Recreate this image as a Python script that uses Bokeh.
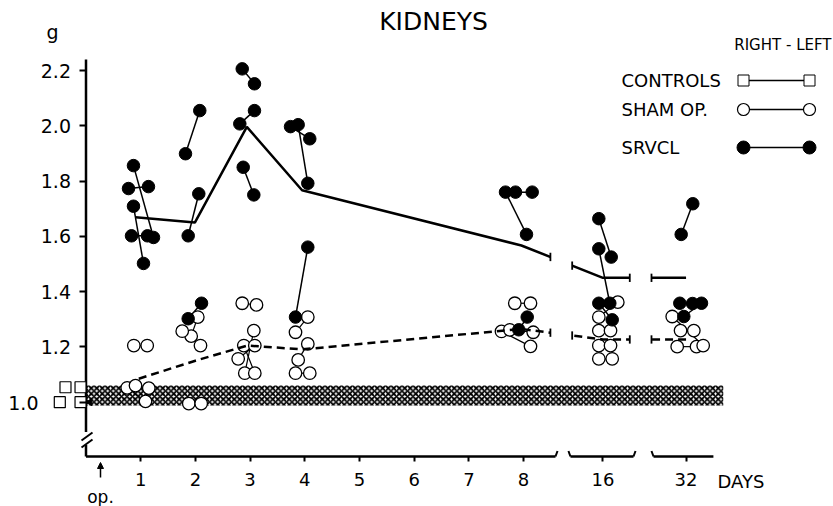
import numpy as np
from bokeh.plotting import figure
from bokeh.models import Range1d, LinearAxis, FixedTicker, Label, Arrow, NormalHead
from bokeh.embed import file_html
from bokeh.resources import INLINE

# ---------------- data (x in axis units: 1..8 days, 16 -> 9.45, 32 -> 10.97; y in g) ----------------
Y_TICKS = [1.0, 1.2, 1.4, 1.6, 1.8, 2.0, 2.2]
Y_LABELS = ["1.0", "1.2", "1.4", "1.6", "1.8", "2.0", "2.2"]
X_TICKS = [1, 2, 3, 4, 5, 6, 7, 8, 9.45, 10.97]
X_LABELS = ["1", "2", "3", "4", "5", "6", "7", "8", "16", "32"]

# SRVCL: right kidney (R) and left kidney (L) of each animal
SRVCL_R_X = [0.868, 0.777, 0.868, 0.832, 1.819, 1.868, 1.868, 2.856, 2.812, 2.874,
             3.739, 3.879, 3.830, 7.669, 7.852, 7.912, 9.375, 9.375, 9.375, 10.881, 10.856, 10.929]
SRVCL_R_G = [1.856, 1.773, 1.709, 1.602, 1.899, 1.602, 1.302, 2.206, 2.007, 1.850,
             1.997, 2.004, 1.308, 1.760, 1.760, 1.262, 1.664, 1.555, 1.358, 1.607, 1.358, 1.310]
SRVCL_L_X = [1.234, 1.142, 1.051, 1.124, 2.080, 2.062, 2.112, 3.080, 3.080, 3.068,
             4.091, 4.055, 4.055, 8.053, 8.157, 8.066, 9.602, 9.576, 9.620, 11.093, 11.088, 11.252]
SRVCL_L_G = [1.596, 1.780, 1.502, 1.602, 2.055, 1.754, 1.358, 2.152, 2.055, 1.750,
             1.953, 1.792, 1.561, 1.607, 1.760, 1.308, 1.525, 1.358, 1.298, 1.718, 1.357, 1.358]

# Sham operated
SHAM_R_X = [0.874, 0.753, 0.905, 1.923, 1.759, 1.879, 2.856, 3.068, 2.885, 2.782,
            3.830, 3.879, 3.830, 7.839, 7.596, 7.748, 9.375, 9.375, 9.375, 9.375, 10.869, 10.808, 10.717]
SHAM_R_G = [1.205, 1.052, 1.060, 1.239, 1.257, 0.995, 1.358, 1.259, 1.205, 1.157,
            1.253, 1.153, 1.105, 1.358, 1.256, 1.262, 1.308, 1.259, 1.205, 1.157, 1.259, 1.201, 1.310]
SHAM_L_X = [1.119, 1.088, 1.148, 2.044, 2.093, 2.106, 3.117, 2.903, 3.086, 3.086,
            4.055, 4.055, 4.091, 8.126, 8.126, 8.176, 9.722, 9.589, 9.589, 9.620, 11.112, 11.161, 11.283]
SHAM_L_G = [1.205, 1.003, 1.051, 1.308, 1.205, 0.995, 1.352, 1.105, 1.105, 1.205,
            1.308, 1.211, 1.105, 1.358, 1.202, 1.253, 1.362, 1.259, 1.205, 1.157, 1.259, 1.201, 1.205]

# Controls (plotted left of the axis)
CTRL_X = [-0.375, -0.100, -0.479, -0.100]
CTRL_G = [1.054, 1.054, 1.000, 1.000]
CTRL_MEAN_G = 1.0
CTRL_BAND = (0.988, 1.060)   # control range band
CTRL_BAND_END = 11.65

# Mean lines
SRVCL_MEAN_X = [0.905, 1.99, 2.94, 3.95, 7.96, 9.45, 10.97]
SRVCL_MEAN_G = [1.669, 1.650, 1.996, 1.767, 1.567, 1.450, 1.450]
SHAM_MEAN_X = [0.965, 2.0, 2.947, 3.952, 7.96, 9.45, 10.97]
SHAM_MEAN_G = [1.085, 1.150, 1.205, 1.191, 1.265, 1.227, 1.227]

# axis breaks
AXIS_SEGMENTS = [(0.0, 8.583), (8.857, 10.009), (10.375, 11.47)]
LINE_GAPS = [(8.49, 8.888), (9.941, 10.338)]
AXIS_BOTTOM = 0.8035
AXIS_TOP = 2.24

# ---------------- figure ----------------
W, H = 833, 506
X0_PX, X_PER = 85.5, 54.7
Y1_PX, Y_PER = 401.7, 276.4


def px(xp):  # canvas pixel -> data x (layout helper for annotations)
    return (xp - X0_PX) / X_PER


def py(yp):
    return 1 + (Y1_PX - yp) / Y_PER


p = figure(width=W, height=H,
           x_range=Range1d(-X0_PX / X_PER, (W - X0_PX) / X_PER),
           y_range=Range1d(1 - (H - Y1_PX) / Y_PER, 1 + Y1_PX / Y_PER),
           output_backend="svg", toolbar_location=None, min_border=0,
           x_axis_type=None, y_axis_type=None)
p.outline_line_color = None
p.background_fill_color = "white"
p.border_fill_color = "white"

FONT = "DejaVu Sans"

# the "1.0" label sits further left (controls are drawn beside the axis), so it is drawn separately
y_over = {float(t): s for t, s in zip(Y_TICKS, Y_LABELS)}
y_over[1.0] = ""
yax = LinearAxis(ticker=FixedTicker(ticks=Y_TICKS), fixed_location=0,
                 axis_line_color=None, major_tick_out=7, major_tick_in=0,
                 major_tick_line_width=2, major_tick_line_color="black",
                 minor_tick_line_color=None, major_label_standoff=8,
                 major_label_text_font=FONT, major_label_text_font_size="19px",
                 major_label_text_color="black", major_label_overrides=y_over)
p.add_layout(yax, "left")

xax = LinearAxis(ticker=FixedTicker(ticks=X_TICKS), fixed_location=AXIS_BOTTOM,
                 axis_line_color=None, major_tick_out=5, major_tick_in=0,
                 major_tick_line_width=2, major_tick_line_color="black",
                 minor_tick_line_color=None, major_label_standoff=11,
                 major_label_text_font=FONT, major_label_text_font_size="18px",
                 major_label_text_color="black",
                 major_label_overrides={float(t): s for t, s in zip(X_TICKS, X_LABELS)})
p.add_layout(xax, "below")

# control band (hatched)
p.quad(left=[0], right=[CTRL_BAND_END], bottom=[CTRL_BAND[0]], top=[CTRL_BAND[1]],
       fill_color="white", line_color=None, hatch_pattern="diagonal_cross",
       hatch_color="black", hatch_scale=5.5, hatch_weight=1.8)

# axis lines
p.segment(x0=[a for a, b in AXIS_SEGMENTS], x1=[b for a, b in AXIS_SEGMENTS],
          y0=[AXIS_BOTTOM] * 3, y1=[AXIS_BOTTOM] * 3, line_color="black", line_width=2.5)
p.segment(x0=[0, 0], x1=[0, 0], y0=[AXIS_BOTTOM, 0.892], y1=[0.845, AXIS_TOP],
          line_color="black", line_width=2.5)
# break marks on y axis
p.segment(x0=[px(81), px(81)], x1=[px(92), px(92)], y0=[py(440), py(447)], y1=[py(432), py(439)],
          line_color="black", line_width=2)
# break hooks on x axis
hx0 = [8.583, 8.857, 10.009, 10.375]
hx1 = [8.62, 8.82, 10.046, 10.338]
p.segment(x0=hx0, x1=hx1, y0=[AXIS_BOTTOM] * 4, y1=[AXIS_BOTTOM + 0.02] * 4,
          line_color="black", line_width=2)

# pair lines
p.segment(x0=SRVCL_R_X, y0=SRVCL_R_G, x1=SRVCL_L_X, y1=SRVCL_L_G, line_color="black", line_width=1.5)
p.segment(x0=SHAM_R_X, y0=SHAM_R_G, x1=SHAM_L_X, y1=SHAM_L_G, line_color="black", line_width=1.2)

# points
p.scatter(CTRL_X, CTRL_G, marker="square", size=11, fill_color="white", line_color="black", line_width=1.2)
p.scatter([0.07], [CTRL_MEAN_G], marker="triangle", angle=np.pi / 2, size=7,
          fill_color="black", line_color="black")
p.scatter(SHAM_R_X + SHAM_L_X, SHAM_R_G + SHAM_L_G, size=12.5, fill_color="white",
          line_color="black", line_width=1.3)
p.scatter(SRVCL_R_X + SRVCL_L_X, SRVCL_R_G + SRVCL_L_G, size=12.5, fill_color="black",
          line_color="black")

# mean lines
p.line(SRVCL_MEAN_X, SRVCL_MEAN_G, line_color="black", line_width=2.5)
p.line(SHAM_MEAN_X, SHAM_MEAN_G, line_color="black", line_width=2.5, line_dash="8 5")
# gaps in mean lines at the axis breaks
p.quad(left=[a for a, b in LINE_GAPS], right=[b for a, b in LINE_GAPS],
       bottom=[1.12] * 2, top=[1.62] * 2, fill_color="white", line_color=None)
gx = [g for pair in LINE_GAPS for g in pair]
for mx, mg in ((SRVCL_MEAN_X, SRVCL_MEAN_G), (SHAM_MEAN_X, SHAM_MEAN_G)):
    gy = np.interp(gx, mx, mg)
    p.segment(x0=gx, x1=gx, y0=list(gy - 0.015), y1=list(gy + 0.015), line_color="black", line_width=1.8)

# ---------------- texts ----------------
def add_label(x, y, text, size, align="left", baseline="middle"):
    p.add_layout(Label(x=px(x), y=py(y), text=text, text_font=FONT, text_font_size=size,
                       text_align=align, text_baseline=baseline, text_color="black"))


add_label(433, 21, "KIDNEYS", "25px", align="center")
add_label(52, 31, "g", "19px", align="center")
add_label(38, 402, Y_LABELS[0], "19px", align="right")
add_label(717, 481, "DAYS", "18px")
add_label(100, 496, "op.", "17px", align="center")
add_label(831, 44, "RIGHT - LEFT", "15px", align="right")
add_label(621, 80, "CONTROLS", "18px")
add_label(621, 109, "SHAM  OP.", "18px")
add_label(621, 147, "SRVCL", "18px")

p.add_layout(Arrow(end=NormalHead(size=6, fill_color="black", line_color="black"),
                   x_start=px(100), y_start=py(477), x_end=px(100), y_end=py(462),
                   line_color="black", line_width=1.5))

# legend symbols
lx = [px(743), px(809)]
for yy, kind in ((80, "sq"), (109, "ci"), (147, "dot")):
    p.line(lx, [py(yy)] * 2, line_color="black", line_width=1.3)
    if kind == "sq":
        p.scatter(lx, [py(yy)] * 2, marker="square", size=11, fill_color="white", line_color="black")
    elif kind == "ci":
        p.scatter(lx, [py(yy)] * 2, size=12, fill_color="white", line_color="black", line_width=1.2)
    else:
        p.scatter(lx, [py(yy)] * 2, size=13, fill_color="black", line_color="black")

open("out.html", "w").write(file_html(p, INLINE))
